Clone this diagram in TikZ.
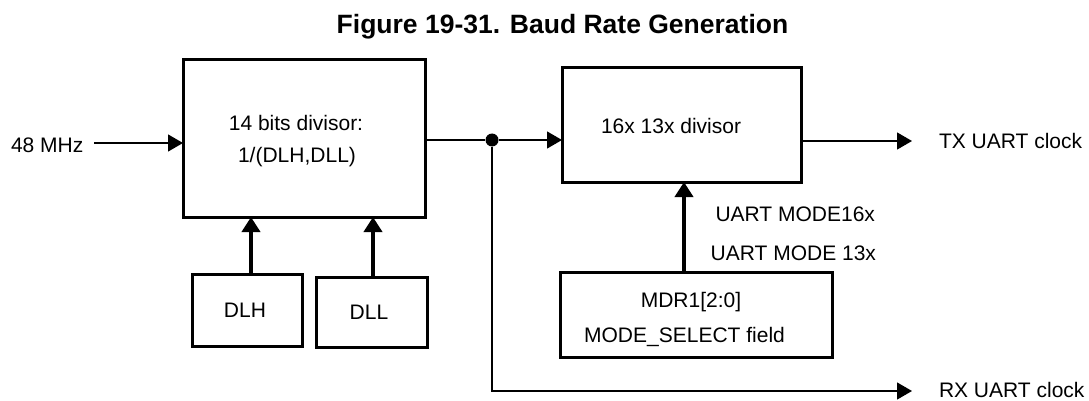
\documentclass[tikz,border=0pt]{standalone}
\usepackage{fontspec}
\setmainfont{Liberation Sans}
\usetikzlibrary{arrows.meta}
\begin{document}
\begin{tikzpicture}[x=1pt,y=-1pt,
  every node/.style={font=\fontsize{21}{25}\selectfont},
  blk/.style={draw,line width=3pt,inner sep=0pt,outer sep=0pt,anchor=north west},
  lbl/.style={inner sep=0pt,outer sep=0pt},
  thinarrow/.style={line width=1.3pt,-{Triangle[length=15pt,width=17pt]}},
  thickarrow/.style={line width=4.5pt,-{Triangle[length=15pt,width=18pt]}},
  thinline/.style={line width=1.3pt},
  dot/.style={circle,fill,inner sep=0pt,minimum size=13pt}]
\useasboundingbox (0,0) rectangle (1089,401);
% title
\node[lbl,anchor=base,font=\fontsize{26.5}{30}\selectfont\bfseries] (title) at (562.5,34) {Figure 19-31. Baud Rate Generation};
% boxes
\node[blk,minimum width=242pt,minimum height=157pt] (box1) at (183,60) {};
\node[blk,minimum width=239pt,minimum height=114pt] (box2) at (562,68) {};
\node[blk,minimum width=110pt,minimum height=72pt] (dlh) at (192,274) {};
\node[blk,minimum width=111pt,minimum height=70pt] (dll) at (316,277) {};
\node[blk,minimum width=272pt,minimum height=85pt] (mdr) at (560,272) {};
% texts
\node[lbl,anchor=base] (t1a) at (296,131) {14 bits divisor:};
\node[lbl,anchor=base] (t1b) at (297,162.5) {1/(DLH,DLL)};
\node[lbl,anchor=base] (tdlh) at (245,317.5) {DLH};
\node[lbl,anchor=base] (tdll) at (369,319.5) {DLL};
\node[lbl,anchor=base west] (t2) at (601,133.5) {16x 13x divisor};
\node[lbl,anchor=base] (tm1) at (691,307) {MDR1[2:0]};
\node[lbl,anchor=base] (tm2) at (684.5,342) {MODE\_SELECT field};
\node[lbl,anchor=base east] (u16) at (875,221) {UART MODE16x};
\node[lbl,anchor=base east] (u13) at (876,260) {UART MODE 13x};
\node[lbl,anchor=base west] (in) at (11,153) {48 MHz};
\node[lbl,anchor=base west] (tx) at (939,148.5) {TX UART clock};
\node[lbl,anchor=base west] (rx) at (939,397) {RX UART clock};
% connectors
\coordinate (instart) at (94,143);
\coordinate (txend) at (912,141);
\coordinate (rxend) at (912,391);
\node[dot] (j) at (492,140) {};
\draw[thinarrow] (instart) -- (instart -| box1.west);
\draw[thinline] (box1.east |- j) -- (j);
\draw[thinarrow] (j) -- (box2.west |- j);
\draw[thinarrow] (j) |- (rxend);
\draw[thinarrow] (box2.east |- txend) -- (txend);
\draw[thickarrow] ([xshift=4pt]dlh.north) -- ([xshift=4pt]dlh.north |- box1.south);
\draw[thickarrow] ([xshift=1.5pt]dll.north) -- ([xshift=1.5pt]dll.north |- box1.south);
\draw[thickarrow] ([xshift=-12pt]mdr.north) -- ([xshift=-12pt]mdr.north |- box2.south);
\end{tikzpicture}
\end{document}
